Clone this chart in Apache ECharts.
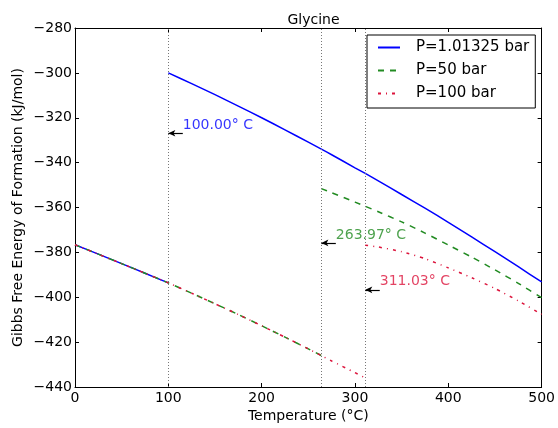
<!DOCTYPE html>
<html>
<head>
<meta charset="utf-8">
<script src="https://cdn.jsdelivr.net/npm/echarts@6/dist/echarts.min.js"></script>
<style>html,body{margin:0;padding:0;background:#fff}#c{width:558px;height:428px}</style>
</head>
<body>
<div id="c"></div>
<script>
// Lower branch, shared by all pressures up to their boiling points
const lowT = [0, 25, 50, 75, 100, 125, 150, 175, 200, 225, 250, 263.97, 275, 300, 311.03];
const lowG = [-376.6, -380.8, -385.0, -389.3, -393.6, -398.2, -402.9, -407.7, -412.7, -417.8, -423.0, -426.0, -428.4, -433.6, -436.0];

// Upper branches
const blueUpT = [100, 125, 150, 175, 200, 225, 250, 263.97, 275, 300, 311.03, 325, 350, 375, 400, 425, 450, 475, 500];
const blueUpG = [-300.0, -304.8, -309.7, -314.8, -320.0, -325.4, -330.9, -334.0, -336.5, -342.3, -344.8, -348.1, -354.2, -360.3, -366.6, -373.1, -379.7, -386.4, -393.2];
const greenUpT = [263.97, 275, 300, 325, 350, 375, 400, 425, 450, 475, 500];
const greenUpG = [-351.6, -353.4, -357.6, -361.9, -366.4, -371.4, -376.7, -382.1, -387.8, -393.8, -400.2];
const redUpT = [311.03, 325, 350, 375, 400, 425, 450, 475, 500];
const redUpG = [-376.8, -377.6, -379.7, -382.8, -386.9, -391.3, -396.1, -401.6, -407.6];

const seriesNames = ['P=1.01325 bar', 'P=50 bar', 'P=100 bar'];
const boilT = [100.00, 263.97, 311.03];
const arrowG = [-326.9, -375.8, -396.7];
const boilLabels = ['100.00° C', '263.97° C', '311.03° C'];
const colors = ['#0000ff', '#228b22', '#dc143c'];

const FONT = 'DejaVu Sans';
const zip = (a, b) => a.map((v, i) => [v, b[i]]);
const lowUpTo = (t) => zip(lowT, lowG).filter(p => p[0] <= t + 1e-9);
const minus = v => (v < 0 ? '\u2212' + Math.abs(v) : String(v));

const styles = [
  { type: 'solid' },
  { type: [6, 6] },
  { type: [3, 5, 1, 5] }
];
const upper = [zip(blueUpT, blueUpG), zip(greenUpT, greenUpG), zip(redUpT, redUpG)];

const series = [];
for (let i = 0; i < 3; i++) {
  series.push({
    name: seriesNames[i], type: 'line', data: lowUpTo(boilT[i]),
    symbol: 'none', smooth: 0.2, z: 3 + i,
    lineStyle: Object.assign({ color: colors[i], width: 1.5 }, styles[i]),
    itemStyle: { color: colors[i] }
  });
}
for (let i = 0; i < 3; i++) {
  series.push({
    name: seriesNames[i], type: 'line', data: upper[i],
    symbol: 'none', smooth: 0.2, z: 3 + i,
    lineStyle: Object.assign({ color: colors[i], width: 1.5 }, styles[i]),
    itemStyle: { color: colors[i] }
  });
}
// vertical dotted lines at boiling points
series.push({
  type: 'line', data: [], silent: true,
  markLine: {
    silent: true, animation: false,
    symbol: ['none', 'none'],
    label: { show: false },
    lineStyle: { color: '#777', width: 1, type: [1, 2] },
    data: boilT.map(t => ({ xAxis: t }))
  }
});
// arrows
series.push({
  type: 'line', data: [], silent: true,
  markLine: {
    silent: true, animation: false,
    symbol: ['none', 'arrow'], symbolSize: [5, 7],
    label: { show: false },
    lineStyle: { color: '#000', width: 1.2, type: 'solid' },
    data: boilT.map((t, i) => [{ coord: [t + 15.5, arrowG[i]] }, { coord: [t, arrowG[i]] }])
  }
});
// annotation texts
boilT.forEach((t, i) => {
  series.push({
    type: 'scatter', silent: true, symbolSize: 0,
    data: [[t + 15.5, arrowG[i]]],
    label: {
      show: true, position: 'right', distance: 0, offset: [0, -8],
      formatter: boilLabels[i], color: colors[i], fontFamily: FONT, fontSize: 14
    }
  });
});

const axisCommonX = {
  type: 'value', min: 0, max: 500, interval: 100,
  splitLine: { show: false },
  axisLine: { show: true, onZero: false, lineStyle: { color: '#000', width: 1 } },
  axisTick: { show: true, inside: true, length: 4, lineStyle: { color: '#000' } }
};
const axisCommonY = {
  type: 'value', min: -440, max: -280, interval: 20,
  splitLine: { show: false },
  axisLine: { show: true, onZero: false, lineStyle: { color: '#000', width: 1 } },
  axisTick: { show: true, inside: true, length: 4, lineStyle: { color: '#000' } }
};

const option = {
  animation: false,
  backgroundColor: '#fff',
  textStyle: { fontFamily: FONT },
  title: {
    text: 'Glycine', left: 308.5, top: 8, textAlign: 'center',
    textStyle: { fontFamily: FONT, fontSize: 14, fontWeight: 'normal', color: '#000' }
  },
  legend: {
    orient: 'vertical', left: 367, top: 35,
    padding: [5, 6, 7, 10], itemGap: 8, itemWidth: 22, itemHeight: 16,
    borderColor: '#000', borderWidth: 1, borderRadius: 0, backgroundColor: '#fff',
    data: seriesNames,
    itemStyle: { opacity: 0 },
    textStyle: { fontFamily: FONT, fontSize: 15, color: '#000', padding: [0, 0, 0, 11] }
  },
  grid: { left: 75, right: 16, top: 28, bottom: 38, containLabel: false },
  xAxis: [
    Object.assign({}, axisCommonX, {
      position: 'bottom',
      name: 'Temperature (°C)', nameLocation: 'middle', nameGap: 22, nameMoveOverlap: false,
      nameTextStyle: { fontFamily: FONT, fontSize: 14, color: '#000' },
      axisLabel: { show: true, margin: 4, color: '#000', fontFamily: FONT, fontSize: 14, formatter: minus }
    }),
    Object.assign({}, axisCommonX, { position: 'top', axisLabel: { show: false } })
  ],
  yAxis: [
    Object.assign({}, axisCommonY, {
      position: 'left',
      name: 'Gibbs Free Energy of Formation (kJ/mol)', nameLocation: 'middle', nameGap: 50, nameMoveOverlap: false,
      nameTextStyle: { fontFamily: FONT, fontSize: 14, color: '#000' },
      axisLabel: { show: true, margin: 3, color: '#000', fontFamily: FONT, fontSize: 14, formatter: minus }
    }),
    Object.assign({}, axisCommonY, { position: 'right', axisLabel: { show: false } })
  ],
  series: series
};

const chart = echarts.init(document.getElementById('c'), null, { renderer: 'canvas' });
chart.setOption(option);
</script>
</body>
</html>
